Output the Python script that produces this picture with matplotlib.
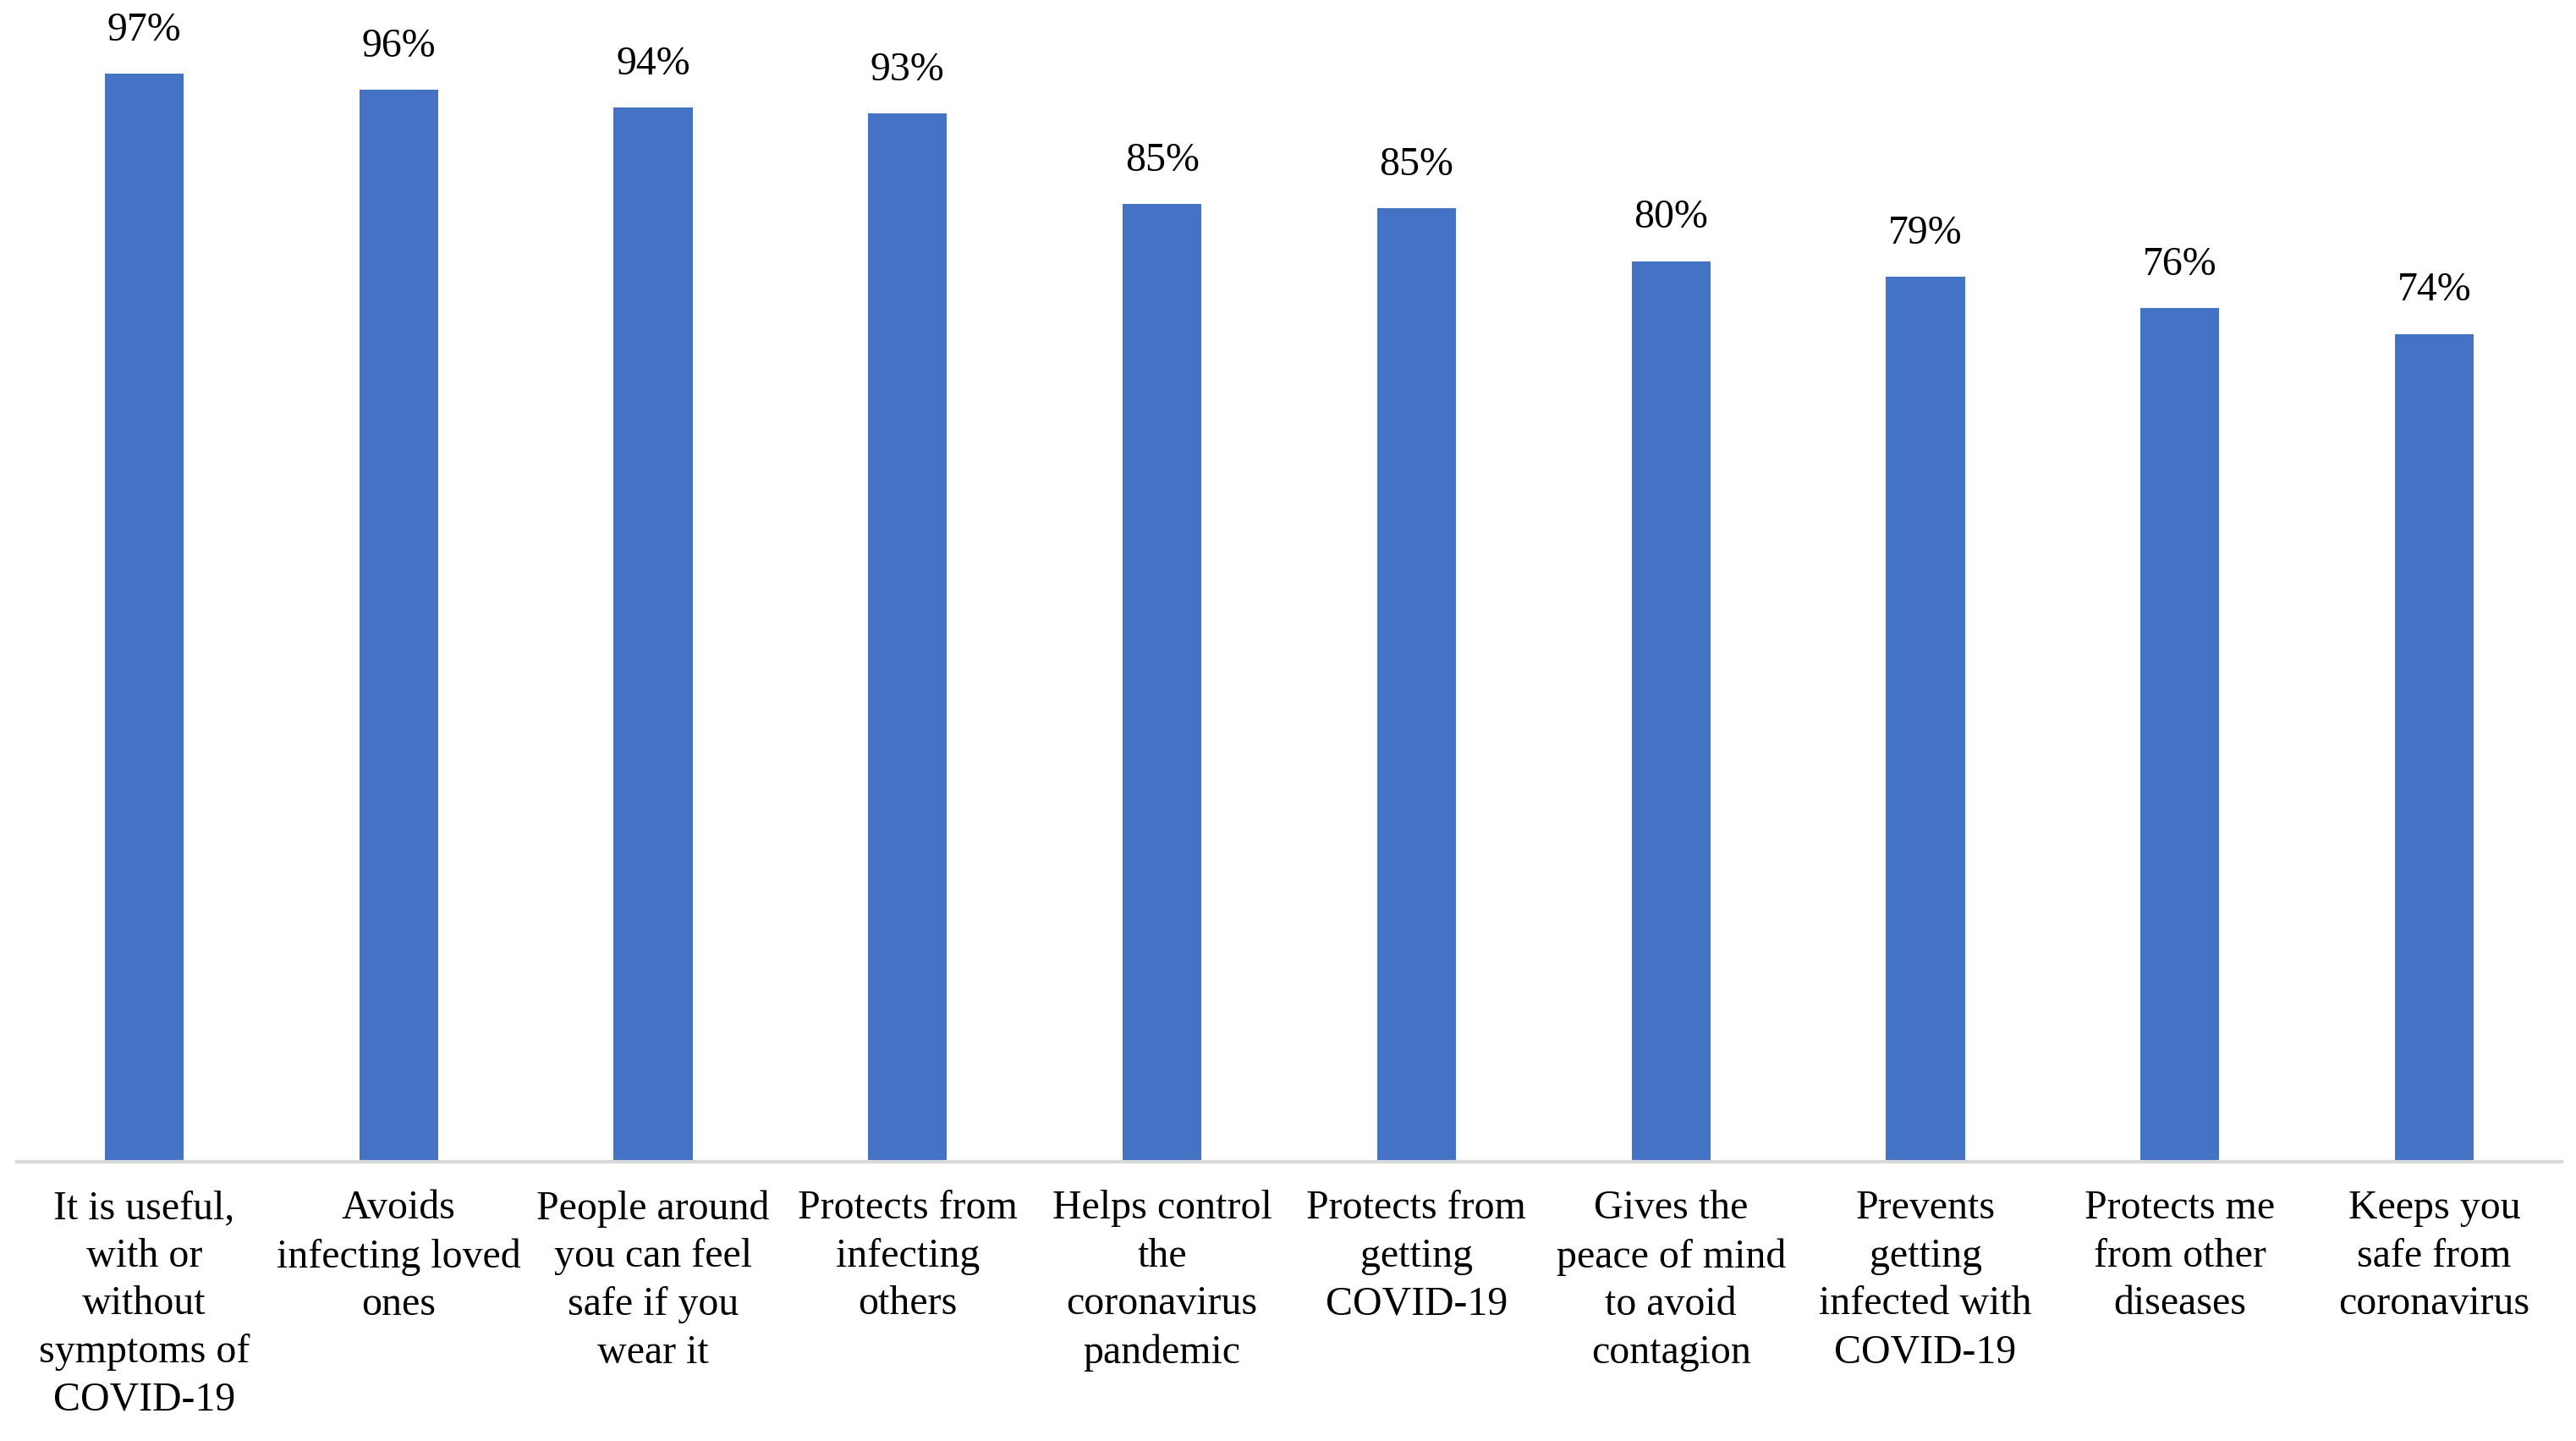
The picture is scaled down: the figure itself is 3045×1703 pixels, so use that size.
#!/usr/bin/env python3
'''
Bar chart of reasons for wearing a mask (percent of respondents)
'''

import matplotlib
matplotlib.use('Agg')
import matplotlib.pyplot as plt

categories = [
    'It is useful,\nwith or\nwithout\nsymptoms of\nCOVID-19',
    'Avoids\ninfecting loved\nones',
    'People around\nyou can feel\nsafe if you\nwear it',
    'Protects from\ninfecting\nothers',
    'Helps control\nthe\ncoronavirus\npandemic',
    'Protects from\ngetting\nCOVID-19',
    'Gives the\npeace of mind\nto avoid\ncontagion',
    'Prevents\ngetting\ninfected with\nCOVID-19',
    'Protects me\nfrom other\ndiseases',
    'Keeps you\nsafe from\ncoronavirus',
]
values = [97.1, 95.7, 94.1, 93.6, 85.5, 85.1, 80.4, 79.0, 76.2, 73.9]
value_labels = ['97%', '96%', '94%', '93%', '85%', '85%', '80%', '79%', '76%', '74%']

plt.rcParams['font.family'] = ['Liberation Serif', 'DejaVu Serif']

W, H = 3045, 1703
fig = plt.figure(figsize=(W / 300, H / 300), dpi=300)
# axes placed to match the reference layout (fractions of the figure)
ax = fig.add_axes([20 / W, 330 / H, 3008 / W, (1373 - 49) / H])

x = range(len(categories))
ax.bar(x, values, width=0.31, color='#4472C4', zorder=2)

for xi, v, lab in zip(x, values, value_labels):
    ax.annotate(lab, (xi, v), xytext=(0, 7), textcoords='offset points',
                ha='center', va='bottom', fontsize=11.5, color='black')

ax.set_xlim(-0.5, len(categories) - 0.5)
ax.set_ylim(0, 100)
ax.set_xticks(list(x))
ax.set_xticklabels(categories, fontsize=11.5, linespacing=1.37)
ax.tick_params(axis='x', length=0, pad=8)
ax.set_yticks([])

for side in ['top', 'right', 'left']:
    ax.spines[side].set_visible(False)
ax.spines['bottom'].set_color('#d9d9d9')
ax.spines['bottom'].set_linewidth(1.0)

fig.savefig('out.png', dpi=300)
